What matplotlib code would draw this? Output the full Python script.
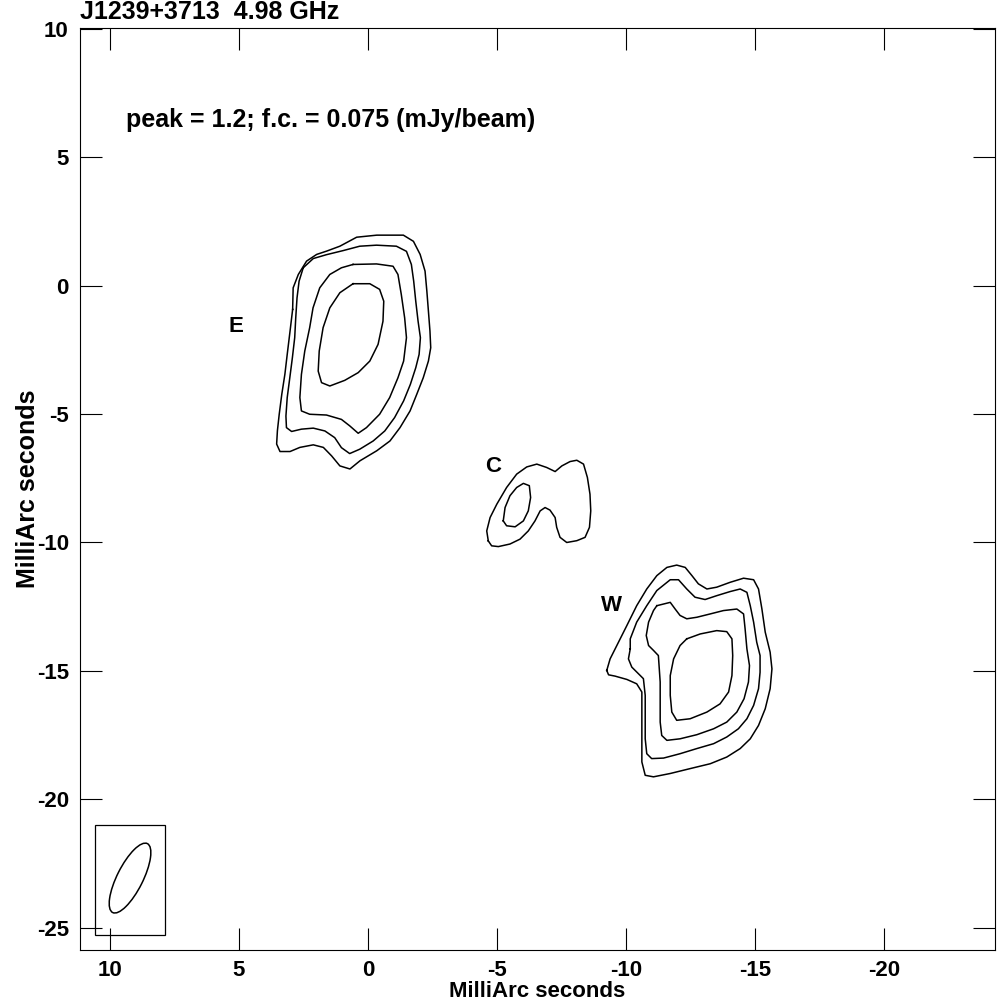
import matplotlib
matplotlib.use('Agg')
import matplotlib.pyplot as plt
from matplotlib.patches import Ellipse, Rectangle
from matplotlib.ticker import MultipleLocator, FuncFormatter
import numpy as np

# contour paths (mas), lowest level first
E_contours = [
    [(2.92, -0.93), (2.90, -0.09), (2.70, 0.43), (2.38, 0.95), (1.99, 1.21), (1.60, 1.34),
     (1.09, 1.53), (0.44, 1.88), (-0.34, 1.96), (-1.37, 1.96), (-1.76, 1.72), (-2.02, 1.21),
     (-2.21, 0.56), (-2.28, -0.22), (-2.34, -0.99), (-2.40, -1.77), (-2.43, -2.42), (-2.34, -2.94),
     (-2.14, -3.59), (-1.89, -4.23), (-1.63, -4.88), (-1.24, -5.53), (-0.85, -6.05), (-0.34, -6.43),
     (0.31, -6.82), (0.70, -7.14), (1.09, -7.02), (1.41, -6.63), (1.73, -6.30), (2.12, -6.20),
     (2.64, -6.30), (3.02, -6.46), (3.41, -6.46), (3.54, -6.17), (3.51, -5.65), (3.44, -5.01),
     (3.34, -4.23), (3.22, -3.45), (3.13, -2.68), (3.02, -1.77)],
    [(2.51, 0.69), (2.12, 1.05), (1.61, 1.20), (0.96, 1.36), (0.32, 1.53), (-0.33, 1.57),
     (-1.10, 1.53), (-1.49, 1.33), (-1.68, 0.82), (-1.77, 0.17), (-1.85, -0.61), (-1.94, -1.39),
     (-2.03, -2.03), (-1.98, -2.68), (-1.85, -3.20), (-1.64, -3.85), (-1.38, -4.49), (-1.03, -5.14),
     (-0.65, -5.66), (-0.20, -6.05), (0.32, -6.37), (0.71, -6.54), (1.03, -6.31), (1.29, -5.92),
     (1.67, -5.66), (2.12, -5.55), (2.58, -5.59), (2.96, -5.68), (3.16, -5.53), (3.18, -5.08),
     (3.13, -4.36), (3.03, -3.59), (2.93, -2.81), (2.84, -2.03), (2.80, -1.26), (2.75, -0.48),
     (2.67, 0.17)],
    [(0.58, 0.82), (-0.33, 0.84), (-0.97, 0.75), (-1.16, 0.43), (-1.29, -0.35), (-1.42, -1.26),
     (-1.49, -2.03), (-1.38, -2.94), (-1.16, -3.59), (-0.84, -4.36), (-0.45, -5.01), (0.06, -5.53),
     (0.38, -5.75), (0.71, -5.46), (1.03, -5.21), (1.61, -5.04), (2.26, -5.01), (2.58, -4.88),
     (2.64, -4.36), (2.58, -3.46), (2.45, -2.55), (2.26, -1.64), (2.13, -0.87), (1.87, -0.09),
     (1.48, 0.43), (1.03, 0.69)],
    [(0.58, 0.07), (-0.07, 0.07), (-0.45, -0.15), (-0.61, -0.61), (-0.58, -1.39), (-0.39, -2.29),
     (-0.07, -2.94), (0.38, -3.39), (0.90, -3.69), (1.48, -3.91), (1.80, -3.78), (1.93, -3.33),
     (1.89, -2.55), (1.74, -1.64), (1.48, -0.87), (1.09, -0.28)],
]

C_contours = [
    [(-4.66, -9.94), (-4.60, -9.55), (-4.73, -9.03), (-4.99, -8.51), (-5.37, -7.86), (-5.76, -7.34),
     (-6.15, -7.06), (-6.54, -6.95), (-6.92, -7.08), (-7.25, -7.24), (-7.51, -7.02), (-7.83, -6.85),
     (-8.09, -6.80), (-8.35, -6.95), (-8.50, -7.47), (-8.60, -8.12), (-8.63, -8.77), (-8.58, -9.41),
     (-8.41, -9.80), (-8.09, -9.93), (-7.70, -10.00), (-7.44, -9.80), (-7.31, -9.41), (-7.25, -9.03),
     (-7.05, -8.74), (-6.86, -8.64), (-6.67, -8.77), (-6.47, -9.16), (-6.21, -9.55), (-5.89, -9.87),
     (-5.50, -10.06), (-5.05, -10.16), (-4.79, -10.13)],
    [(-5.24, -9.16), (-5.31, -8.64), (-5.50, -8.18), (-5.76, -7.86), (-6.02, -7.70), (-6.25, -7.79),
     (-6.30, -8.25), (-6.21, -8.77), (-6.02, -9.16), (-5.70, -9.39), (-5.37, -9.35)],
]

W_contours = [
    [(-9.25, -14.98), (-9.38, -14.53), (-9.64, -14.01), (-10.03, -13.23), (-10.41, -12.46),
     (-10.80, -11.81), (-11.19, -11.29), (-11.58, -10.97), (-11.96, -10.88), (-12.29, -10.97),
     (-12.55, -11.29), (-12.80, -11.61), (-13.13, -11.81), (-13.51, -11.74), (-14.03, -11.55),
     (-14.55, -11.39), (-14.94, -11.45), (-15.13, -11.81), (-15.26, -12.58), (-15.39, -13.49),
     (-15.58, -14.27), (-15.65, -14.92), (-15.58, -15.69), (-15.39, -16.47), (-15.13, -17.12),
     (-14.81, -17.64), (-14.42, -18.02), (-13.90, -18.35), (-13.26, -18.61), (-12.48, -18.80),
     (-11.71, -18.99), (-11.06, -19.12), (-10.74, -19.06), (-10.61, -18.54), (-10.61, -17.77),
     (-10.61, -16.73), (-10.61, -15.82), (-10.41, -15.50), (-10.03, -15.33), (-9.57, -15.20),
     (-9.32, -15.15)],
    [(-10.16, -14.14), (-10.16, -13.75), (-10.41, -13.10), (-10.80, -12.46), (-11.19, -11.87),
     (-11.71, -11.45), (-12.03, -11.45), (-12.35, -11.81), (-12.67, -12.13), (-13.06, -12.22),
     (-13.51, -12.07), (-14.03, -11.91), (-14.42, -11.81), (-14.68, -11.94), (-14.81, -12.46),
     (-14.94, -13.10), (-15.06, -13.88), (-15.19, -14.40), (-15.19, -15.05), (-15.13, -15.69),
     (-14.94, -16.34), (-14.68, -16.86), (-14.35, -17.25), (-13.90, -17.57), (-13.39, -17.83),
     (-12.74, -18.02), (-12.09, -18.22), (-11.45, -18.39), (-10.99, -18.41), (-10.80, -18.22),
     (-10.74, -17.64), (-10.74, -16.73), (-10.74, -15.95), (-10.67, -15.30), (-10.48, -15.11),
     (-10.22, -14.85), (-10.09, -14.53)],
    [(-11.19, -12.46), (-11.71, -12.33), (-11.90, -12.59), (-12.09, -12.84), (-12.35, -12.97),
     (-12.74, -12.91), (-13.26, -12.78), (-13.77, -12.65), (-14.29, -12.59), (-14.55, -12.78),
     (-14.61, -13.36), (-14.68, -14.14), (-14.78, -14.79), (-14.74, -15.43), (-14.57, -16.08),
     (-14.29, -16.60), (-13.90, -16.99), (-13.39, -17.25), (-12.74, -17.48), (-12.09, -17.64),
     (-11.58, -17.70), (-11.38, -17.51), (-11.32, -16.99), (-11.32, -16.21), (-11.32, -15.43),
     (-11.25, -14.40), (-11.06, -14.20), (-10.87, -14.01), (-10.78, -13.62), (-10.87, -13.10),
     (-11.06, -12.65)],
    [(-12.35, -13.75), (-12.87, -13.56), (-13.51, -13.43), (-13.90, -13.47), (-14.10, -13.75),
     (-14.13, -14.40), (-14.10, -15.18), (-13.97, -15.82), (-13.64, -16.28), (-13.13, -16.60),
     (-12.48, -16.86), (-11.96, -16.92), (-11.77, -16.60), (-11.71, -15.95), (-11.71, -15.18),
     (-11.84, -14.53), (-12.09, -14.01)],
]

comp_names = ['E', 'C', 'W']
comp_label_x = [5.1, -4.85, -9.45]
comp_label_y = [-1.6, -7.05, -12.45]

# restoring beam (mas, deg)
beam_x, beam_y = 9.22, -23.06
beam_maj, beam_min, beam_pa = 3.0, 1.0, 26.6
beam_box = (7.87, -25.27, 2.71, 4.27)

title = 'J1239+3713  4.98 GHz'
info = 'peak = 1.2; f.c. = 0.075 (mJy/beam)'

plt.rcParams['font.family'] = ['Liberation Sans', 'DejaVu Sans']
plt.rcParams['font.weight'] = 'bold'
plt.rcParams['axes.unicode_minus'] = False

fig = plt.figure(figsize=(9.97, 10.05), dpi=100)
ax = fig.add_axes([0.0802, 0.0547, 0.918, 0.9174])


def closed(path):
    pts = np.array(path + [path[0]])
    return pts[:, 0], pts[:, 1]


for group in (E_contours, C_contours, W_contours):
    for path in group:
        xs, ys = closed(path)
        ax.plot(xs, ys, color='black', lw=1.1, solid_joinstyle='round')

for name, lx, ly in zip(comp_names, comp_label_x, comp_label_y):
    ax.text(lx, ly, name, fontsize=16, fontweight='bold', ha='center', va='center')

ax.add_patch(Rectangle(beam_box[:2], beam_box[2], beam_box[3], fill=False, lw=0.9, ec='black'))
ax.add_patch(Ellipse((beam_x, beam_y), beam_min, beam_maj, angle=beam_pa,
                     fill=False, lw=1.1, ec='black'))

ax.text(0.05, 0.900, info, transform=ax.transAxes, fontsize=18, fontweight='bold',
        ha='left', va='center')
ax.text(0.0, 1.004, title, transform=ax.transAxes, fontsize=18, fontweight='bold',
        ha='left', va='bottom')

ax.set_xlim(11.16, -24.30)
ax.set_ylim(-25.86, 10.02)
ax.xaxis.set_major_locator(MultipleLocator(5))
ax.yaxis.set_major_locator(MultipleLocator(5))
fmt = FuncFormatter(lambda v, p: '%d' % round(v))
ax.xaxis.set_major_formatter(fmt)
ax.yaxis.set_major_formatter(fmt)
ax.tick_params(which='major', direction='in', length=16, width=0.8,
               top=True, right=True, labelsize=16, pad=8)
ax.tick_params(axis='x', pad=7)
for lab in ax.get_xticklabels() + ax.get_yticklabels():
    lab.set_fontweight('bold')
for s in ax.spines.values():
    s.set_linewidth(0.8)

ax.set_xlabel('MilliArc seconds', fontsize=16, fontweight='bold', labelpad=0)
ax.set_ylabel('MilliArc seconds', fontsize=18, fontweight='bold', labelpad=-2)

fig.savefig('out.png', dpi=100)
